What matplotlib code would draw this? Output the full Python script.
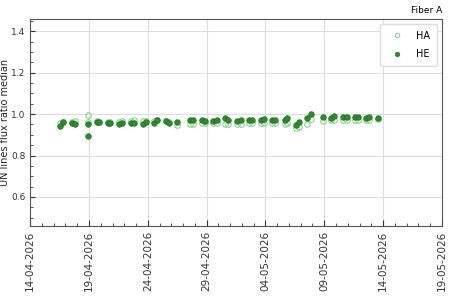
import matplotlib
matplotlib.use('Agg')
import matplotlib.pyplot as plt
import matplotlib.dates as mdates
from matplotlib.ticker import AutoMinorLocator
import numpy as np
import pandas as pd

# observation times, in days after 14-04-2026 00:00
days = [2.55, 2.83, 3.54, 3.85, 4.88, 4.90, 5.69, 5.84, 6.63, 6.82,
        7.56, 7.84, 8.56, 8.84, 9.60, 9.83, 10.51, 10.82, 11.55, 11.83,
        12.51, 13.59, 13.82, 14.59, 14.87, 15.57, 15.89, 16.57, 16.85, 17.56,
        17.90, 18.61, 18.86, 19.63, 19.91, 20.56, 20.84, 21.64, 21.86, 22.57,
        22.88, 23.53, 23.90, 24.89, 25.57, 25.85, 26.57, 26.91, 27.61, 27.84,
        28.55, 28.83, 29.54]
he = [0.942, 0.960, 0.957, 0.952, 0.950, 0.894, 0.963, 0.960, 0.958, 0.958,
      0.953, 0.958, 0.955, 0.955, 0.952, 0.960, 0.955, 0.971, 0.966, 0.957,
      0.961, 0.970, 0.970, 0.971, 0.966, 0.968, 0.970, 0.981, 0.970, 0.966,
      0.971, 0.970, 0.973, 0.970, 0.978, 0.970, 0.970, 0.971, 0.982, 0.947,
      0.961, 0.981, 1.002, 0.986, 0.981, 0.992, 0.986, 0.984, 0.986, 0.986,
      0.981, 0.986, 0.981]
ha = [0.955, 0.962, 0.960, 0.965, 0.998, 0.962, 0.967, 0.962, 0.960, 0.962,
      0.962, 0.966, 0.966, 0.970, 0.965, 0.965, 0.966, 0.972, 0.968, 0.960,
      0.948, 0.953, 0.953, 0.958, 0.955, 0.957, 0.955, 0.953, 0.953, 0.952,
      0.953, 0.955, 0.958, 0.958, 0.958, 0.958, 0.958, 0.952, 0.958, 0.931,
      0.940, 0.953, 0.978, 0.965, 0.970, 0.972, 0.972, 0.972, 0.972, 0.972,
      0.971, 0.972, 0.978]

start = pd.Timestamp('2026-04-14')
dates = start + pd.to_timedelta(days, unit='D')
xticks = pd.date_range('2026-04-14', '2026-05-19', freq='5D')

fig = plt.figure(figsize=(4.5, 3), dpi=100)
ax = fig.add_axes([0.067, 0.247, 0.915, 0.69])

ax.plot(dates, ha, 'o', mfc='none', mec='#8fd08f', mew=0.8, ms=4, label='HA')
ax.plot(dates, he, 'o', color='#2e8b2e', mec='#1f6e1f', mew=0.5, ms=4, label='HE')

ax.set_xlim(start, pd.Timestamp('2026-05-19'))
ax.set_ylim(0.46, 1.46)
ax.set_xticks(xticks)
ax.xaxis.set_major_formatter(mdates.DateFormatter('%d-%m-%Y'))
ax.xaxis.set_minor_locator(mdates.DayLocator())
ax.set_yticks([0.6, 0.8, 1.0, 1.2, 1.4])
ax.yaxis.set_minor_locator(AutoMinorLocator(4))
ax.tick_params(axis='both', which='both', direction='in', colors='#333333')
ax.tick_params(axis='x', which='major', length=4, labelsize=7.5, labelrotation=90)
ax.tick_params(axis='y', which='major', labelsize=6.5)
ax.tick_params(which='minor', length=2)
ax.grid(True, which='major', color='#dddddd', linewidth=0.8)
for s in ax.spines.values():
    s.set_color('#555555')

ax.set_ylabel('UN lines flux ratio median', fontsize=7, color='#222222')
ax.yaxis.set_label_coords(-0.05, 0.5)
ax.set_title('Fiber A', loc='right', fontsize=6.5, pad=4)
ax.legend(loc='upper right', fontsize=7, frameon=True, framealpha=1,
          edgecolor='#dddddd', borderpad=0.7, handletextpad=1.0,
          markerscale=0.8, labelspacing=0.9)

plt.setp(ax.get_xticklabels(), rotation='vertical')

fig.savefig('out.png', dpi=100)
